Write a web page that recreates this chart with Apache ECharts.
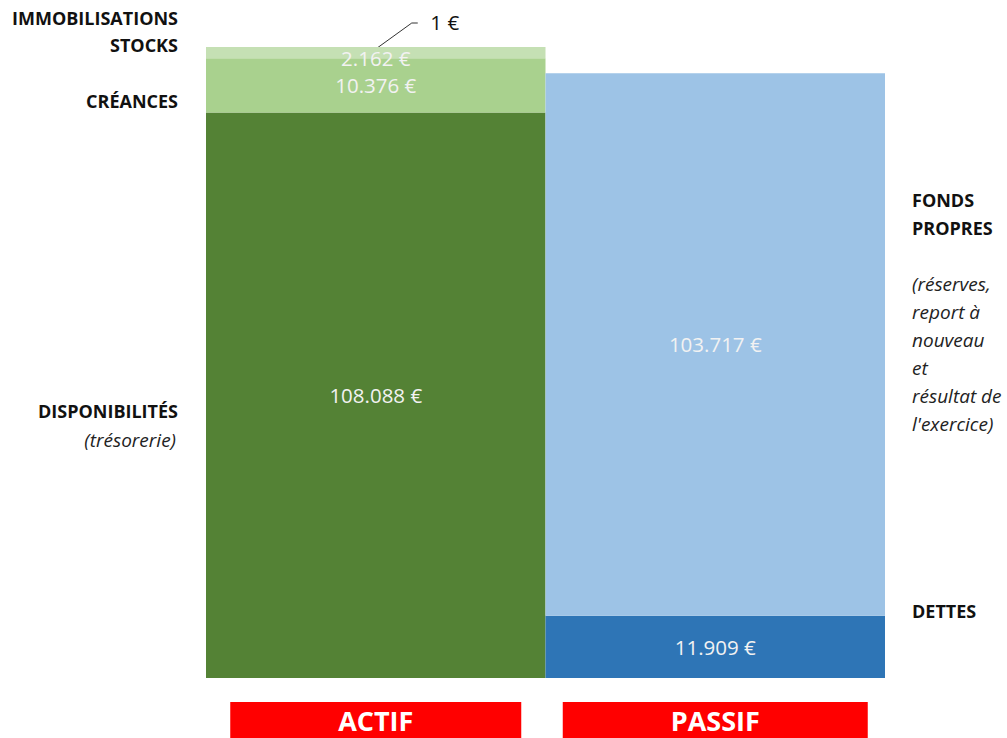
<!DOCTYPE html>
<html>
<head>
<meta charset="utf-8">
<script src="https://cdn.jsdelivr.net/npm/echarts@6/dist/echarts.min.js"></script>
<style>
  html, body { margin: 0; padding: 0; background: #fff; }
  #main { width: 1007px; height: 738px; }
</style>
</head>
<body>
<div id="main"></div>
<script>
// bilan : actif / passif
var categories = ['ACTIF', 'PASSIF'];

var actifNames = ['DISPONIBILITÉS', 'CRÉANCES', 'STOCKS', 'IMMOBILISATIONS'];
var actifValues = [108088, 10376, 2162, 1];
var actifColors = ['#548235', '#a9d18e', '#c5e0b4', '#e2f0d9'];

var passifNames = ['DETTES', 'FONDS PROPRES'];
var passifValues = [11909, 103717];
var passifColors = ['#2e75b6', '#9dc3e6'];

var fondsPropresNote = ['(réserves,', 'report à', 'nouveau', 'et', 'résultat de', "l'exercice)"];

var FONT = '"Open Sans", "Noto Sans", sans-serif';

function euro(v) {
    return String(v).replace(/\B(?=(\d{3})+(?!\d))/g, '.') + ' €';
}

var total = actifValues.reduce(function (a, b) { return a + b; }, 0);

var series = [];
actifValues.forEach(function (v, i) {
    var lbl = {
        show: true,
        position: 'inside',
        color: '#f2f2f2',
        fontFamily: FONT,
        fontSize: 20.5,
        formatter: function (p) { return euro(p.value); }
    };
    if (i === 2) lbl.offset = [0, 5];
    if (i === 3) {
        lbl.position = 'top';
        lbl.color = '#111';
        lbl.offset = [69, -10];
    }
    series.push({
        name: actifNames[i],
        type: 'bar',
        stack: 'bilan',
        barCategoryGap: '0%',
        itemStyle: { color: actifColors[i] },
        label: lbl,
        data: [v, '-']
    });
});
passifValues.forEach(function (v, i) {
    series.push({
        name: passifNames[i],
        type: 'bar',
        stack: 'bilan',
        barCategoryGap: '0%',
        itemStyle: { color: passifColors[i] },
        label: {
            show: true,
            position: 'inside',
            color: '#f2f2f2',
            fontFamily: FONT,
            fontSize: 20.5,
            formatter: function (p) { return euro(p.value); }
        },
        data: ['-', v]
    });
});

var chart = echarts.init(document.getElementById('main'), null, { renderer: 'svg' });

chart.setOption({
    backgroundColor: '#fff',
    animation: false,
    grid: { left: 206, right: 122, top: 47, bottom: 60, outerBoundsMode: 'none', containLabel: false },
    xAxis: {
        type: 'category',
        data: categories,
        axisLine: { show: false },
        axisTick: { show: false },
        axisLabel: {
            margin: 24,
            formatter: function (v) { return v === 'ACTIF' ? '{a|' + v + '}' : '{p|' + v + '}'; },
            rich: {
                a: {
                    width: 291, height: 36, lineHeight: 36, align: 'center',
                    backgroundColor: '#ff0000', color: '#fff',
                    fontFamily: FONT, fontWeight: 'bold', fontSize: 27
                },
                p: {
                    width: 305, height: 36, lineHeight: 36, align: 'center',
                    backgroundColor: '#ff0000', color: '#fff',
                    fontFamily: FONT, fontWeight: 'bold', fontSize: 27
                }
            }
        }
    },
    yAxis: {
        type: 'value',
        min: 0,
        max: total,
        show: false,
        splitLine: { show: false }
    },
    series: series
});

// annotations placed from the chart's own scales
var xA = chart.convertToPixel({ xAxisIndex: 0 }, 'ACTIF');
var xP = chart.convertToPixel({ xAxisIndex: 0 }, 'PASSIF');
var bw = xP - xA;
var leftEdge = xA - bw / 2;
var rightEdge = xP + bw / 2;
function py(v) { return chart.convertToPixel({ yAxisIndex: 0 }, v); }

var cumA = [];
actifValues.reduce(function (acc, v) { acc += v; cumA.push(acc); return acc; }, 0);
var cumP = [];
passifValues.reduce(function (acc, v) { acc += v; cumP.push(acc); return acc; }, 0);

var boldStyle = { fontFamily: FONT, fontWeight: 'bold', fontSize: 18, fill: '#111' };
var italStyle = { fontFamily: FONT, fontStyle: 'italic', fontSize: 19, fill: '#222' };

function txt(text, x, y, align, st) {
    return {
        type: 'text',
        x: x, y: y,
        style: Object.assign({ text: text, textAlign: align, textVerticalAlign: 'middle' }, st)
    };
}

var lx = leftEdge - 28;
var rx = rightEdge + 27;
var g = [];
g.push(txt(actifNames[0], lx, py(cumA[0]) + 16 + (py(0) - py(cumA[0])) / 2, 'right', boldStyle));
g.push(txt('(trésorerie)', lx - 2, py(cumA[0]) + 45 + (py(0) - py(cumA[0])) / 2, 'right', italStyle));
g.push(txt(actifNames[1], lx, py(cumA[0]) - 12, 'right', boldStyle));
g.push(txt(actifNames[2], lx, py(cumA[2]) - 2, 'right', boldStyle));
g.push(txt(actifNames[3], lx, py(cumA[3]) - 29, 'right', boldStyle));

g.push(txt(passifNames[0], rx, py(cumP[0]) - 5, 'left', boldStyle));
var fpTop = py(cumP[1]) + 127;
g.push(txt('FONDS', rx, fpTop, 'left', boldStyle));
g.push(txt('PROPRES', rx, fpTop + 28, 'left', boldStyle));
fondsPropresNote.forEach(function (t, i) {
    g.push(txt(t, rx, fpTop + 84 + i * 28, 'left', italStyle));
});

// leader line for the 1 € immobilisations
var yTop = py(cumA[3]);
g.push({
    type: 'polyline',
    shape: { points: [[xA, yTop + 2], [xA + 36, yTop - 24], [xA + 42, yTop - 24]] },
    style: { stroke: '#333', lineWidth: 1, fill: null }
});

chart.setOption({ graphic: g });
</script>
</body>
</html>
